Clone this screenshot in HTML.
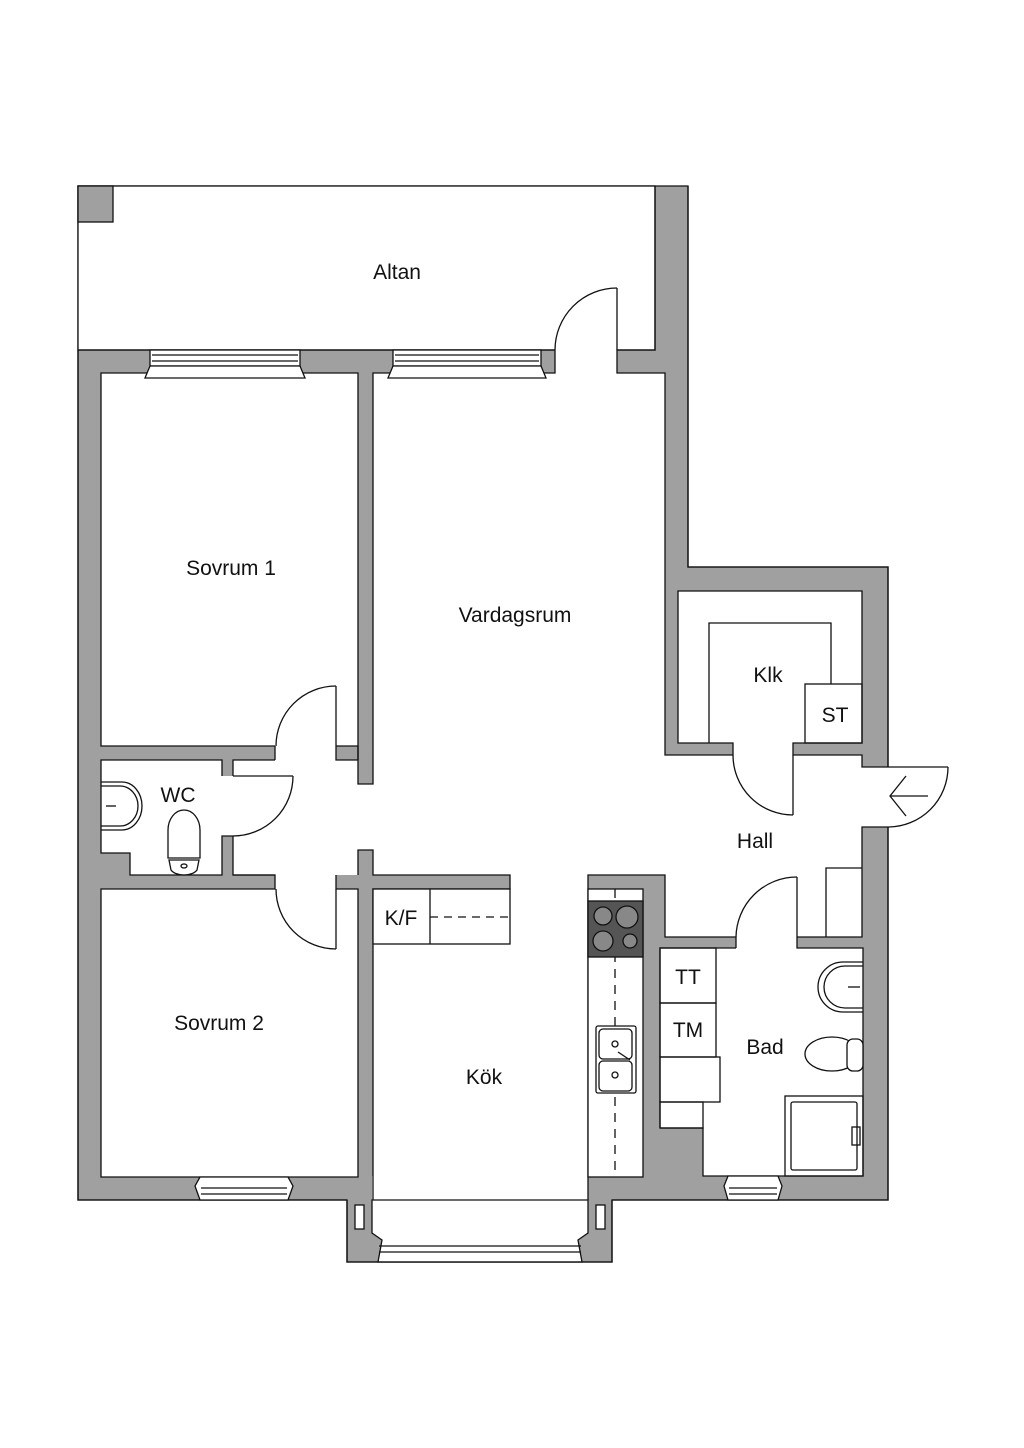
<!DOCTYPE html>
<html><head><meta charset="utf-8"><style>
html,body{margin:0;padding:0;background:#fff}
svg{display:block}
text{font-family:"Liberation Sans",sans-serif;font-size:21px;fill:#111;text-anchor:middle}
</style></head><body>
<svg width="1024" height="1448" viewBox="0 0 1024 1448" xmlns="http://www.w3.org/2000/svg">
<g stroke="#111" stroke-width="1.3">
<polygon fill="#a0a0a0" points="78,186 688,186 688,567 888,567 888,1200 612,1200 612,1262 347,1262 347,1200 78,1200"/>
<rect x="78" y="186" width="577" height="164" fill="#fff"/>
<rect x="78" y="186" width="35" height="36" fill="#a0a0a0"/>
</g>
<g fill="#fff" stroke="none">
<rect x="101" y="373" width="257" height="373"/>
<rect x="373" y="373" width="292" height="502"/>
<rect x="373" y="755" width="489" height="120"/>
<rect x="665" y="755" width="197" height="182"/>
<rect x="101" y="760" width="121" height="93"/>
<rect x="130" y="853" width="92" height="22"/>
<rect x="233" y="760" width="125" height="115"/>
<rect x="101" y="889" width="257" height="288"/>
<rect x="373" y="889" width="215" height="288"/>
<rect x="510" y="874" width="78" height="16"/>
<rect x="703" y="948" width="160" height="228"/>
<rect x="660" y="948" width="44" height="180"/>
<rect x="678" y="591" width="184" height="152"/>
<rect x="555" y="349" width="62" height="25"/>
<rect x="275" y="745" width="61" height="16"/>
<rect x="275" y="874" width="61" height="16"/>
<rect x="221" y="776" width="13" height="60"/>
<rect x="357" y="784" width="17" height="66"/>
<rect x="733" y="742" width="60" height="14"/>
<rect x="736" y="936" width="61" height="13"/>
<rect x="861" y="767" width="28" height="60"/>
<rect x="372" y="1176" width="216" height="57"/>
</g>
<g fill="none" stroke="#111" stroke-width="1.3">
<polyline points="78,350 78,1200 347,1200"/>
<polyline points="655,186 655,350 617,350 617,373 665,373 665,567"/>
<polyline points="688,186 688,567 888,567 888,767"/>
<polyline points="888,827 888,1200 612,1200"/>
<polyline points="78,350 555,350"/>
<polyline points="555,350 555,373 373,373 373,784 358,784 358,373 101,373 101,746 275,746"/>
<polyline points="336,746 358,746 358,760"/>
<polyline points="275,760 233,760 233,776"/>
<polyline points="275,760 275,746"/>
<polyline points="336,746 336,760 358,760"/>
<polyline points="222,776 222,760 101,760 101,853 130,853 130,875 222,875 222,836 233,836 233,875 275,875 275,889 101,889 101,1177 358,1177 358,889 336,889 336,875"/>
<polyline points="233,875 275,875"/>
<polyline points="358,875 358,850 373,850 373,875 510,875 510,889 373,889 373,1200"/>
<polyline points="588,1200 588,875 665,875 665,937 736,937 736,948"/>
<polyline points="660,1128 660,948 736,948"/>
<polyline points="797,937 797,948 863,948 863,1176 703,1176 703,1128 660,1128"/>
<polyline points="665,567 665,755 733,755 733,743 678,743 678,591 862,591 862,743 793,743 793,755 862,755 862,767 888,767"/>
<polyline points="888,827 862,827 862,937 797,937"/>
<line x1="617" y1="288" x2="617" y2="350"/>
<path d="M617,288 A62,62 0 0 0 555,350"/>
<line x1="336" y1="686" x2="336" y2="746"/>
<path d="M336,686 A60,60 0 0 0 276,746"/>
<line x1="233" y1="776" x2="293" y2="776"/>
<path d="M293,776 A60,60 0 0 1 233,836"/>
<line x1="336" y1="889" x2="336" y2="949"/>
<path d="M336,949 A60,60 0 0 1 276,889"/>
<line x1="793" y1="755" x2="793" y2="815"/>
<path d="M793,815 A60,60 0 0 1 733,755"/>
<line x1="797" y1="877" x2="797" y2="937"/>
<path d="M797,877 A61,61 0 0 0 736,937"/>
<line x1="888" y1="767" x2="948" y2="767"/>
<path d="M948,767 A60,60 0 0 1 888,827"/>
<line x1="890" y1="796" x2="928" y2="796"/>
<polyline points="906,776 890,796 906,816"/>
<polyline points="709,743 709,623 831,623 831,684"/>
<rect x="805" y="684" width="57" height="59"/>
<polyline points="826,937 826,868 862,868"/>
<rect x="373" y="889" width="137" height="55" fill="#fff"/>
<line x1="430" y1="889" x2="430" y2="944"/>
<line x1="430" y1="917" x2="510" y2="917" stroke-dasharray="8,6"/>
<rect x="588" y="889" width="55" height="288" fill="#fff"/>
<line x1="615" y1="889" x2="615" y2="1177" stroke-dasharray="9,7"/>
<rect x="588" y="901" width="55" height="56" fill="#555"/>
<g fill="#888" stroke="#111"><circle cx="603" cy="916" r="9"/><circle cx="627" cy="917" r="11"/><circle cx="603" cy="941" r="10"/><circle cx="630" cy="941" r="7"/></g>
<rect x="596" y="1026" width="40" height="67" rx="2" fill="#fff"/>
<rect x="599" y="1029" width="33" height="30" rx="4"/>
<rect x="599" y="1061" width="33" height="30" rx="4"/>
<circle cx="615" cy="1044" r="3"/><circle cx="615" cy="1075" r="3"/>
<line x1="618" y1="1052" x2="630" y2="1060"/>
<rect x="660" y="948" width="56" height="55"/>
<rect x="660" y="1003" width="56" height="54"/>
<rect x="660" y="1057" width="60" height="45"/>
<rect x="660" y="1102" width="43" height="26"/>
<path d="M863,962 L843,962 A25,25 0 0 0 843,1012 L863,1012"/>
<path d="M863,966 L845,966 A21,21 0 0 0 845,1008 L863,1008"/>
<line x1="848" y1="987" x2="860" y2="987"/>
<ellipse cx="832" cy="1054" rx="27" ry="17"/>
<rect x="847" y="1039" width="16" height="32" rx="6" fill="#fff"/>
<rect x="785" y="1096" width="78" height="80"/>
<rect x="791" y="1102" width="66" height="68" rx="2"/>
<rect x="852" y="1127" width="8" height="18"/>
<path d="M101,782 L122,782 A20,24 0 0 1 122,830 L101,830"/>
<path d="M101,786 L120,786 A18,20 0 0 1 120,826 L101,826"/>
<line x1="106" y1="806" x2="116" y2="806"/>
<path d="M168,858 L168,830 A16,20 0 0 1 200,830 L200,858 Z" fill="#fff"/>
<path d="M169,860 L199,860 L197,870 A14,8 0 0 1 171,870 Z" fill="#fff"/>
<ellipse cx="184" cy="866" rx="3" ry="2"/>
<g fill="#fff">
<rect x="150" y="350" width="150" height="16"/>
<polygon points="150,366 300,366 305,378 145,378"/>
<line x1="152" y1="355" x2="298" y2="355"/><line x1="152" y1="361" x2="298" y2="361"/>
<rect x="393" y="350" width="148" height="16"/>
<polygon points="393,366 541,366 546,378 388,378"/>
<line x1="395" y1="355" x2="539" y2="355"/><line x1="395" y1="361" x2="539" y2="361"/>
<polygon points="200,1177 288,1177 293,1186 288,1200 200,1200 195,1186"/>
<line x1="201" y1="1188" x2="287" y2="1188"/><line x1="201" y1="1194" x2="287" y2="1194"/>
<polygon points="728,1176 778,1176 782,1186 778,1200 728,1200 724,1186"/>
<line x1="729" y1="1188" x2="777" y2="1188"/><line x1="729" y1="1194" x2="777" y2="1194"/>
<polygon points="372,1200 588,1200 588,1233 578,1240 582,1262 378,1262 382,1240 372,1233"/>
<line x1="379" y1="1246" x2="581" y2="1246"/><line x1="379" y1="1252" x2="581" y2="1252"/>
<rect x="355" y="1205" width="9" height="24"/>
<rect x="596" y="1205" width="9" height="24"/>
</g>
<polyline points="347,1200 347,1262 612,1262 612,1200"/>
</g>
<text x="397" y="279">Altan</text>
<text x="231" y="575">Sovrum 1</text>
<text x="515" y="622">Vardagsrum</text>
<text x="768" y="682">Klk</text>
<text x="835" y="722">ST</text>
<text x="178" y="802">WC</text>
<text x="755" y="848">Hall</text>
<text x="401" y="925">K/F</text>
<text x="688" y="984">TT</text>
<text x="688" y="1037">TM</text>
<text x="765" y="1054">Bad</text>
<text x="219" y="1030">Sovrum 2</text>
<text x="484" y="1084">Kök</text>
</svg>
</body></html>
